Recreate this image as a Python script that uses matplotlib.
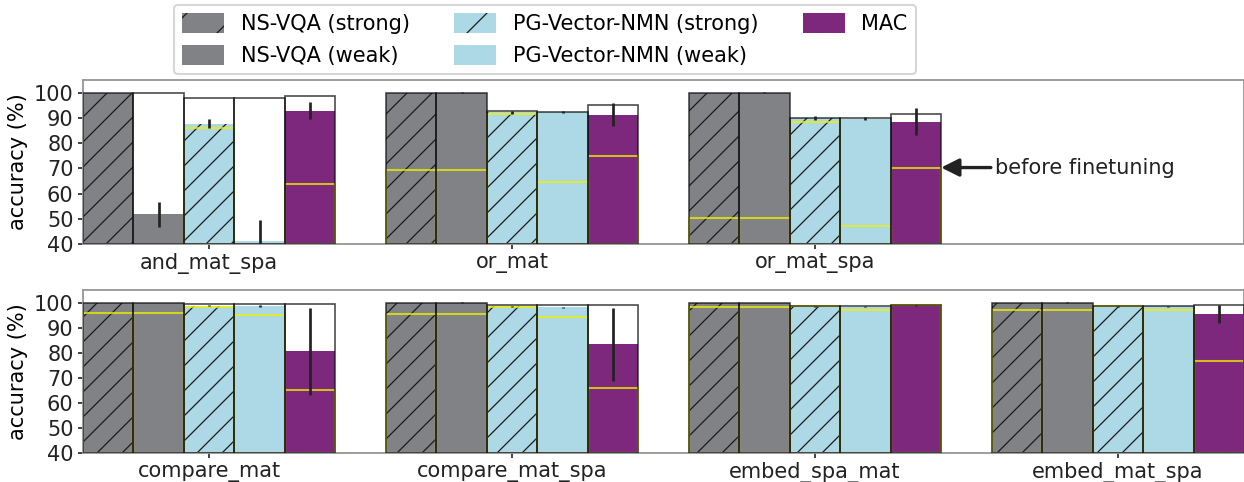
import numpy as np
import matplotlib
matplotlib.use("Agg")
import matplotlib.pyplot as plt
from matplotlib.patches import Patch

nan = np.nan

models = ["NS-VQA (strong)", "NS-VQA (weak)", "PG-Vector-NMN (strong)",
          "PG-Vector-NMN (weak)", "MAC"]

# ---------- top panel ----------
top_categories = ["and_mat_spa", "or_mat", "or_mat_spa"]
top_mean = {
    "NS-VQA (strong)":        [100.0, 100.0, 100.0],
    "NS-VQA (weak)":          [51.7, 100.0, 100.0],
    "PG-Vector-NMN (strong)": [87.7, 92.3, 89.8],
    "PG-Vector-NMN (weak)":   [41.0, 92.3, 89.7],
    "MAC":                    [92.9, 91.3, 88.5],
}
top_err = {
    "NS-VQA (strong)":        [0.0, 0.0, 0.0],
    "NS-VQA (weak)":          [5.0, 0.2, 0.2],
    "PG-Vector-NMN (strong)": [1.8, 0.6, 0.8],
    "PG-Vector-NMN (weak)":   [8.7, 0.5, 0.7],
    "MAC":                    [3.4, 4.6, 5.3],
}
top_max = {
    "NS-VQA (strong)":        [100.0, 100.0, 100.0],
    "NS-VQA (weak)":          [100.0, 100.0, 100.0],
    "PG-Vector-NMN (strong)": [98.0, 92.6, 90.0],
    "PG-Vector-NMN (weak)":   [98.0, 92.5, 90.0],
    "MAC":                    [98.6, 95.2, 91.5],
}
top_before = {
    "NS-VQA (strong)":        [nan, 69.4, 50.2],
    "NS-VQA (weak)":          [nan, 69.4, 50.2],
    "PG-Vector-NMN (strong)": [85.9, 91.5, 88.3],
    "PG-Vector-NMN (weak)":   [nan, 64.6, 47.2],
    "MAC":                    [63.6, 75.0, 70.3],
}

# ---------- bottom panel ----------
bot_categories = ["compare_mat", "compare_mat_spa", "embed_spa_mat", "embed_mat_spa"]
bot_mean = {
    "NS-VQA (strong)":        [100.0, 100.0, 100.0, 100.0],
    "NS-VQA (weak)":          [100.0, 100.0, 100.0, 100.0],
    "PG-Vector-NMN (strong)": [98.8, 98.5, 98.5, 98.6],
    "PG-Vector-NMN (weak)":   [98.7, 98.1, 98.3, 98.5],
    "MAC":                    [80.5, 83.3, 98.9, 95.6],
}
bot_err = {
    "NS-VQA (strong)":        [0.0, 0.0, 0.0, 0.0],
    "NS-VQA (weak)":          [0.0, 0.2, 0.0, 0.2],
    "PG-Vector-NMN (strong)": [0.3, 0.3, 0.2, 0.2],
    "PG-Vector-NMN (weak)":   [0.3, 0.3, 0.2, 0.2],
    "MAC":                    [17.5, 14.5, 0.2, 3.6],
}
bot_max = {
    "NS-VQA (strong)":        [100.0, 100.0, 100.0, 100.0],
    "NS-VQA (weak)":          [100.0, 100.0, 100.0, 100.0],
    "PG-Vector-NMN (strong)": [99.3, 99.0, 98.7, 98.7],
    "PG-Vector-NMN (weak)":   [99.3, 98.9, 98.7, 98.7],
    "MAC":                    [99.3, 99.0, 99.0, 99.0],
}
bot_before = {
    "NS-VQA (strong)":        [96.0, 95.3, 98.3, 97.2],
    "NS-VQA (weak)":          [96.0, 95.3, 98.3, 97.2],
    "PG-Vector-NMN (strong)": [98.4, 98.3, 98.5, 98.5],
    "PG-Vector-NMN (weak)":   [95.2, 94.4, 97.1, 97.2],
    "MAC":                    [65.3, 66.1, 99.0, 76.8],
}

yticks = [40, 50, 60, 70, 80, 90, 100]

colors = {
    "NS-VQA (strong)": "#818285",
    "NS-VQA (weak)": "#818285",
    "PG-Vector-NMN (strong)": "#add8e6",
    "PG-Vector-NMN (weak)": "#add8e6",
    "MAC": "#7d277d",
}
hatches = {
    "NS-VQA (strong)": "//",
    "NS-VQA (weak)": "",
    "PG-Vector-NMN (strong)": "//",
    "PG-Vector-NMN (weak)": "",
    "MAC": "",
}

plt.rcParams["hatch.linewidth"] = 0.6
plt.rcParams["font.family"] = "DejaVu Sans"

DPI = 150
fig = plt.figure(figsize=(1244 / DPI, 482 / DPI), dpi=DPI)
ax_top = fig.add_axes([83 / 1244, 1 - 244 / 482, 1 - 83 / 1244, (244 - 80) / 482])
ax_bot = fig.add_axes([83 / 1244, 1 - 453 / 482, 1 - 83 / 1244, (453 - 290) / 482])

w = 1 / 6
FS = 10


def draw(ax, cats, mean, err, mx, before):
    x = np.arange(len(cats))
    for k, m in enumerate(models):
        xs = x + (k - 2) * w
        base = 40
        mxv = np.array(mx[m])
        mv = np.array(mean[m])
        bv = np.array(before[m])
        ev = np.array(err[m])
        ax.bar(xs, mxv - base, w, bottom=base, color="white", edgecolor="none",
               linewidth=0, zorder=1)
        ax.bar(xs, mv - base, w, bottom=base, color=colors[m], hatch=hatches[m],
               edgecolor="#1a1a1a", linewidth=0, zorder=2)
        ok = ~np.isnan(bv)
        ax.bar(xs[ok], bv[ok] - base, w, bottom=base, fill=False, edgecolor="#f0f000",
               linewidth=1.0, alpha=0.75, zorder=2.5)
        ax.bar(xs, mxv - base, w, bottom=base, fill=False, edgecolor="#111111",
               linewidth=0.8, alpha=0.75, zorder=3)
        ax.errorbar(xs, mv, yerr=ev, fmt="none", ecolor="#222222", elinewidth=1.3,
                    capsize=0, zorder=5)
    ax.set_xticks(x)
    ax.set_xticklabels(cats, fontsize=FS)
    ax.set_ylim(40, 105)
    ax.set_yticks(yticks)
    ax.set_yticklabels([str(t) for t in yticks], fontsize=FS)
    ax.set_ylabel("accuracy (%)", fontsize=FS, labelpad=3)
    ax.tick_params(length=2.5, width=0.8, pad=2, colors="#222222")
    for s in ax.spines.values():
        s.set_color("#999999")
        s.set_linewidth(0.9)


draw(ax_top, top_categories, top_mean, top_err, top_max, top_before)
draw(ax_bot, bot_categories, bot_mean, bot_err, bot_max, bot_before)

xlim = (-2.5 * w, len(bot_categories) - 1 + 2.5 * w)
ax_top.set_xlim(*xlim)
ax_bot.set_xlim(*xlim)

# annotation
ax_top.annotate("before finetuning", xy=(2 + 2.5 * w, top_before["MAC"][2]),
                xytext=(2 + 2.5 * w + 0.178, top_before["MAC"][2]),
                fontsize=FS, va="center", ha="left", color="#222222",
                arrowprops=dict(arrowstyle="-|>", color="#222222", lw=1.6,
                                mutation_scale=18, shrinkA=0, shrinkB=0))

handles = [Patch(facecolor=colors[m], hatch=("/" if hatches[m] else ""),
                 edgecolor="#1a1a1a", linewidth=0, label=m) for m in models]
fig.legend(handles=handles, loc="upper left", ncol=3,
           bbox_to_anchor=(174 / 1244, 1 - 5 / 482), fontsize=FS,
           handlelength=2.0, handleheight=1.1, handletextpad=0.8,
           columnspacing=2.15, borderaxespad=0,
           frameon=True, edgecolor="#cccccc", borderpad=0.4, labelspacing=0.5)

fig.savefig("out.png", dpi=DPI)
